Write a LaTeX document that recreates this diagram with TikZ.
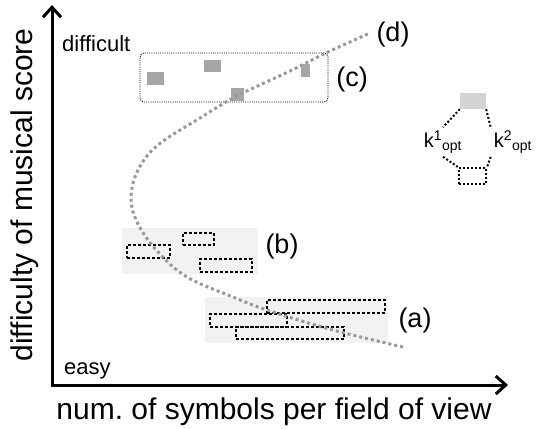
\documentclass[tikz,border=0pt]{standalone}
\usepackage{fontspec}
\setmainfont{Liberation Sans}
\usetikzlibrary{arrows.meta}
\begin{document}
\frenchspacing
\begin{tikzpicture}[x=1pt,y=-1pt,
  axis/.style={line width=3pt, {Straight Barb[length=10pt,width=18pt]}-{Straight Barb[length=10pt,width=18pt]}},
  region/.style={fill=black!5, draw=none, inner sep=0pt},
  dbox/.style={draw=black, line width=1.5pt, dash pattern=on 3pt off 2pt, inner sep=0pt},
  gsq/.style={fill=black!35, draw=none, inner sep=0pt},
  cbox/.style={draw=black, line width=0.9pt, dash pattern=on 1pt off 1.2pt, rounded corners=4pt, inner sep=0pt},
  curve/.style={draw=black!40, line width=3pt, dash pattern=on 3pt off 3pt},
  leg/.style={draw=black, line width=2pt, dash pattern=on 2pt off 2pt},
  big/.style={font=\fontsize{30}{36}\selectfont, inner sep=0pt},
  mid/.style={font=\fontsize{27}{32}\selectfont, inner sep=0pt},
  small/.style={font=\fontsize{22}{26}\selectfont, inner sep=0pt},
  klab/.style={font=\fontsize{20}{24}\selectfont, inner sep=3pt}
]
\useasboundingbox (0,0) rectangle (539,429);
% axes
\coordinate (origin) at (52,385);
\coordinate (ytip) at (52,5);
\coordinate (xtip) at (508,385);
\draw[axis] (ytip) -- (origin) -- (xtip);
\node[big, rotate=90] (ylab) at (25,195) {difficulty of musical score};
\node[big] (xlab) at (274,412) {num. of symbols per field of view};
\node[small, anchor=west] (diff) at (62,44) {difficult};
\node[small, anchor=west] (easy) at (64,371) {easy};
% (b) region
\node[region, minimum width=136pt, minimum height=46pt] (breg) at (190,251) {};
\node[dbox, minimum width=43pt, minimum height=13pt] (b1) at (148.5,251.5) {};
\node[dbox, minimum width=31pt, minimum height=12pt] (b2) at (198.5,239) {};
\node[dbox, minimum width=52pt, minimum height=13pt] (b3) at (226,265.5) {};
% (a) region
\node[region, minimum width=183pt, minimum height=46pt] (areg) at (296.5,320) {};
\node[dbox, minimum width=118pt, minimum height=13pt] (a1) at (326,306.5) {};
\node[dbox, minimum width=77pt, minimum height=13pt] (a2) at (248.5,320.5) {};
\node[dbox, minimum width=108pt, minimum height=12pt] (a3) at (290,333) {};
% (c) box
\node[cbox, minimum width=188pt, minimum height=49pt] (cbox) at (234,77.5) {};
\node[gsq, minimum width=17pt, minimum height=13pt] (s1) at (155.5,78.5) {};
\node[gsq, minimum width=17pt, minimum height=12pt] (s2) at (212.5,66) {};
\node[gsq, minimum width=13pt, minimum height=13pt] (s3) at (237.5,94.5) {};
\node[gsq, minimum width=9pt, minimum height=13pt] (s4) at (305.5,70.5) {};
% curve (d)
\draw[curve] plot[smooth, tension=0.6] coordinates {(403,347) (333,330) (267,310) (233,297) (187,277) (158,252) (138,224) (131,198) (138,170) (158,145) (200,118) (237,96) (290,71) (328,52) (370,33)};
% labels
\node[mid] (la) at (415,321) {(a)};
\node[mid] (lb) at (282,247) {(b)};
\node[mid] (lc) at (352,80) {(c)};
\node[mid] (ld) at (393,35) {(d)};
% legend
\node[fill=black!17, draw=none, inner sep=0pt, minimum width=26pt, minimum height=16pt] (lgsq) at (473,101) {};
\node[leg, inner sep=0pt, minimum width=27pt, minimum height=16pt] (ldsq) at (472.5,176) {};
\node[klab] (k1) at (443,142) {k$^{\mathrm{1}}{}_{\mathrm{opt}}$};
\node[klab] (k2) at (513,142) {k$^{\mathrm{2}}{}_{\mathrm{opt}}$};
\draw[leg] (lgsq.south west) -- (k1.north);
\draw[leg] (lgsq.south east) -- (k2.north west);
\draw[leg] (k1.south) -- (ldsq.north west);
\draw[leg] (k2.south west) -- (ldsq.north east);
\end{tikzpicture}
\end{document}
